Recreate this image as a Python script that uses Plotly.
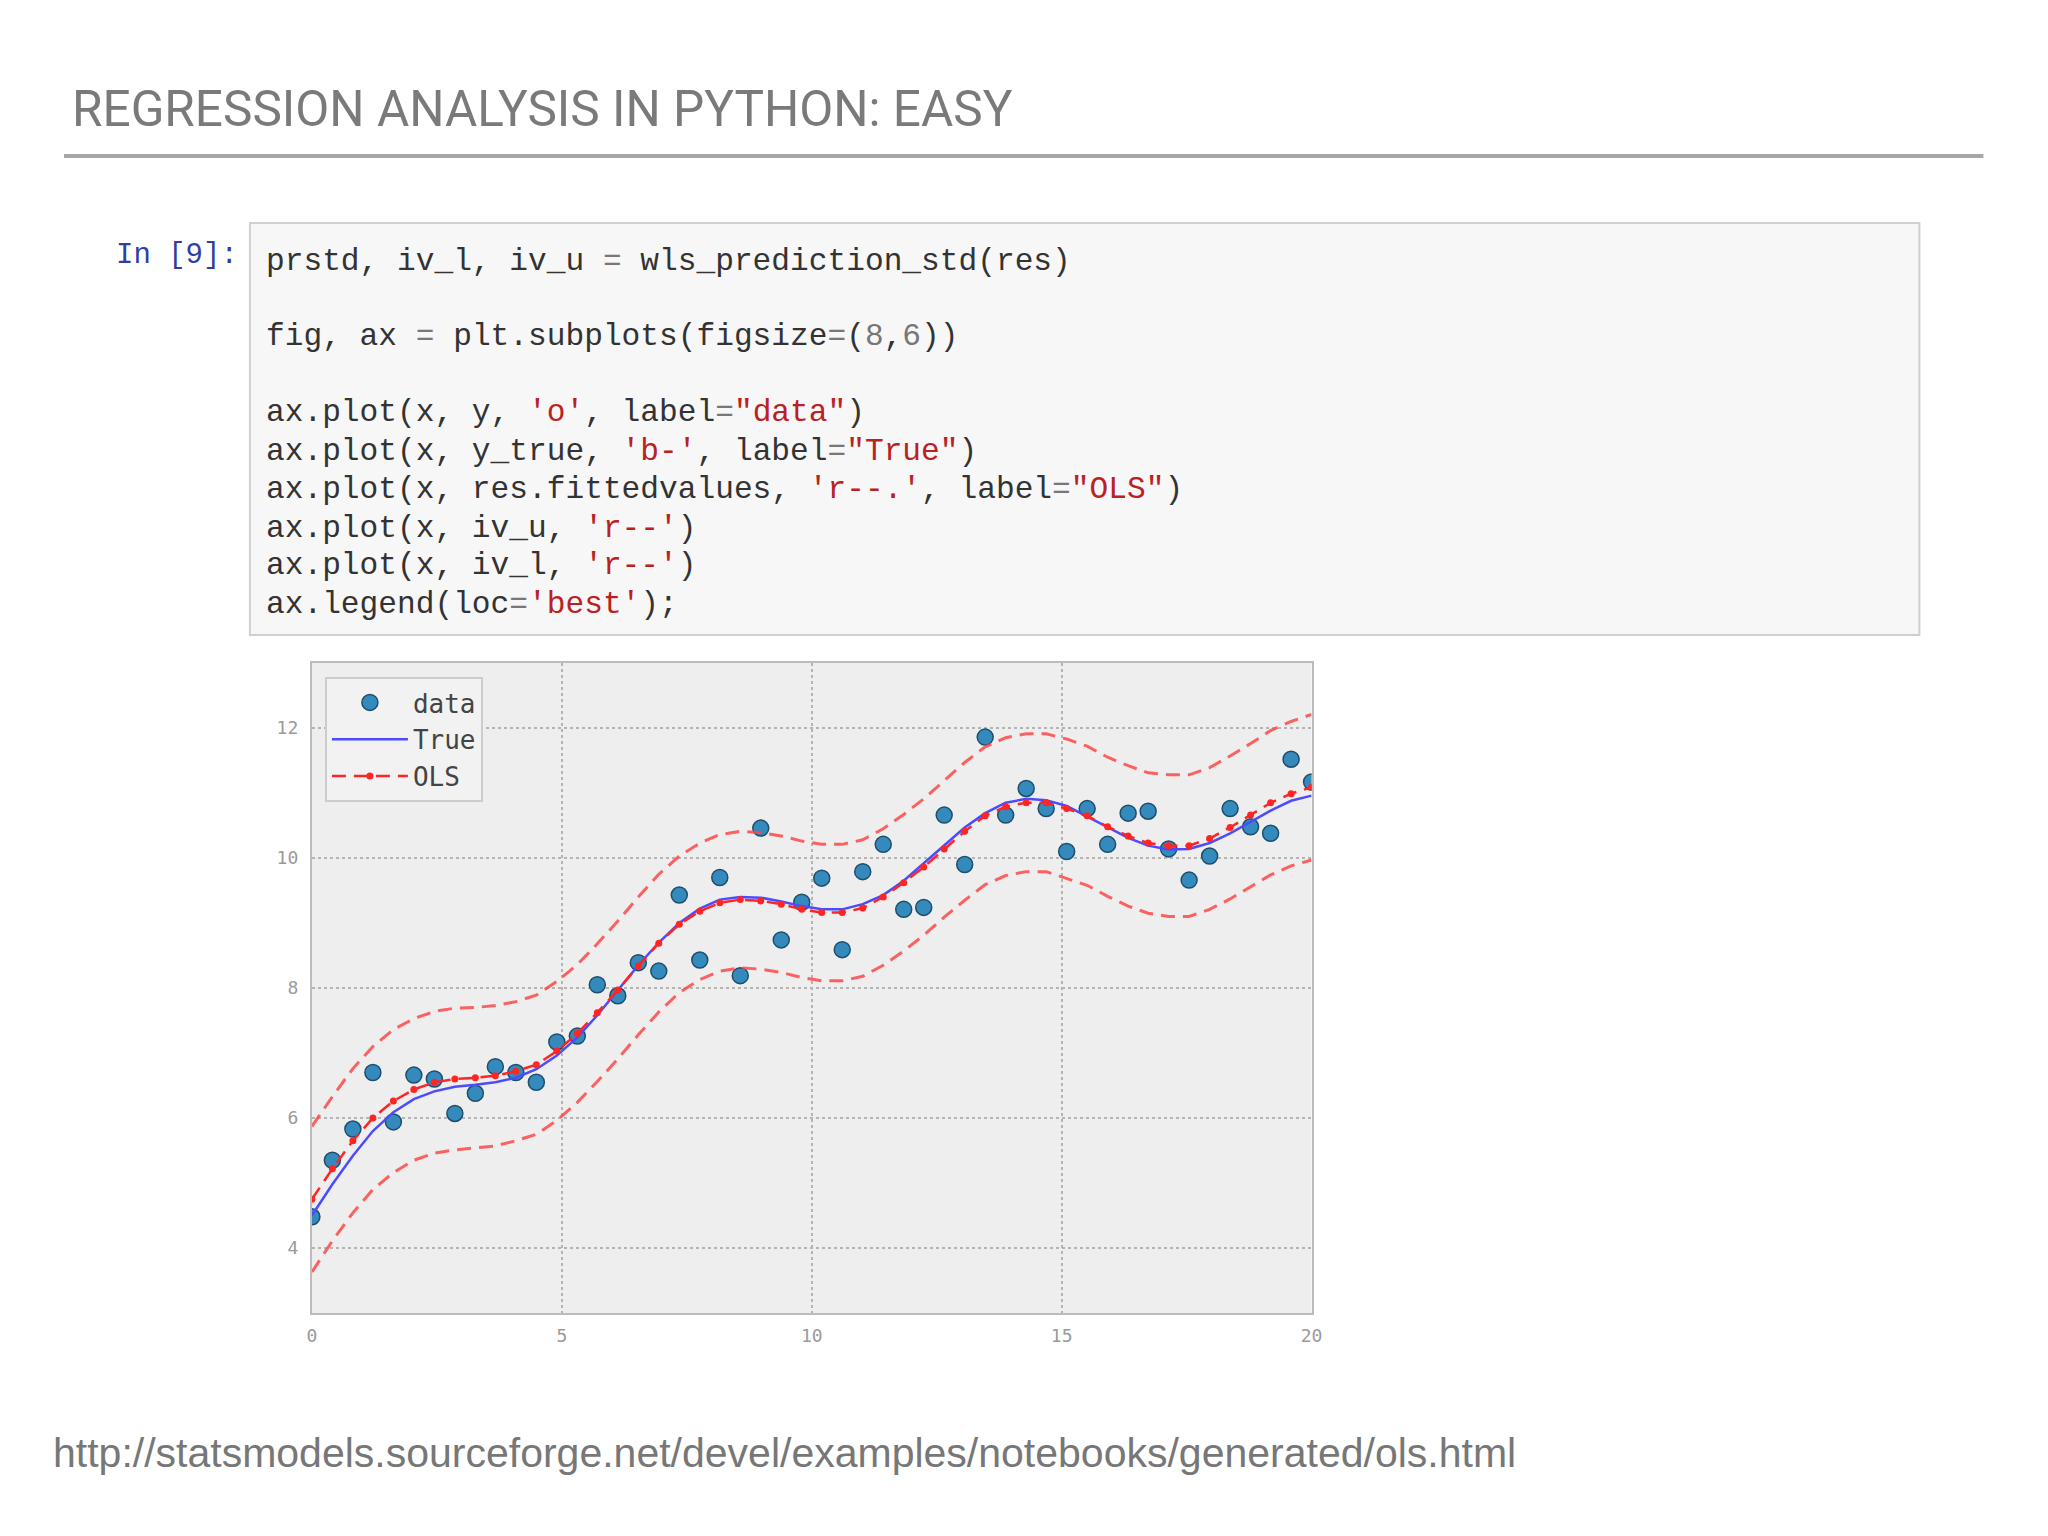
import plotly.graph_objects as go

W, H = 2048, 1536

# x positions of the 50 samples (0 .. 20)
x = [0.00, 0.41, 0.82, 1.22, 1.63, 2.04, 2.45, 2.86, 3.27, 3.67,
     4.08, 4.49, 4.90, 5.31, 5.71, 6.12, 6.53, 6.94, 7.35, 7.76,
     8.16, 8.57, 8.98, 9.39, 9.80, 10.20, 10.61, 11.02, 11.43, 11.84,
     12.24, 12.65, 13.06, 13.47, 13.88, 14.29, 14.69, 15.10, 15.51, 15.92,
     16.33, 16.73, 17.14, 17.55, 17.96, 18.37, 18.78, 19.18, 19.59, 20.00]

# observed points
y = [4.48, 5.35, 5.83, 6.70, 5.94, 6.66, 6.60, 6.07, 6.38, 6.79,
     6.70, 6.55, 7.17, 7.26, 8.05, 7.88, 8.39, 8.26, 9.43, 8.43,
     9.70, 8.19, 10.46, 8.74, 9.32, 9.69, 8.59, 9.79, 10.21, 9.21,
     9.24, 10.66, 9.90, 11.86, 10.66, 11.07, 10.76, 10.10, 10.76, 10.21,
     10.69, 10.72, 10.14, 9.66, 10.03, 10.76, 10.48, 10.38, 11.52, 11.17]

# true curve
y_true = [4.50, 4.98, 5.42, 5.80, 6.09, 6.29, 6.41, 6.48, 6.51, 6.55,
          6.62, 6.75, 6.96, 7.24, 7.58, 7.96, 8.35, 8.70, 9.00, 9.22,
          9.36, 9.40, 9.39, 9.33, 9.26, 9.21, 9.21, 9.29, 9.43, 9.65,
          9.92, 10.20, 10.47, 10.69, 10.85, 10.91, 10.89, 10.80, 10.64, 10.47,
          10.31, 10.19, 10.13, 10.14, 10.23, 10.38, 10.56, 10.73, 10.88, 10.96]

# OLS fitted values
ols = [4.75, 5.22, 5.65, 6.00, 6.26, 6.44, 6.55, 6.60, 6.62, 6.65,
       6.72, 6.82, 7.03, 7.30, 7.62, 7.97, 8.34, 8.69, 8.98, 9.18,
       9.31, 9.36, 9.34, 9.29, 9.21, 9.16, 9.16, 9.23, 9.40, 9.62,
       9.86, 10.14, 10.41, 10.65, 10.79, 10.85, 10.85, 10.76, 10.65, 10.48,
       10.34, 10.23, 10.19, 10.19, 10.30, 10.47, 10.66, 10.85, 10.99, 11.09]

# prediction interval
iv_u = [5.87, 6.33, 6.76, 7.10, 7.36, 7.53, 7.64, 7.69, 7.70, 7.73,
        7.79, 7.89, 8.10, 8.36, 8.68, 9.03, 9.40, 9.75, 10.03, 10.23,
        10.36, 10.41, 10.39, 10.34, 10.26, 10.21, 10.21, 10.28, 10.45, 10.67,
        10.91, 11.19, 11.47, 11.71, 11.85, 11.91, 11.91, 11.83, 11.72, 11.55,
        11.42, 11.31, 11.28, 11.28, 11.39, 11.57, 11.76, 11.96, 12.10, 12.21]
iv_l = [3.63, 4.11, 4.54, 4.90, 5.16, 5.35, 5.46, 5.51, 5.54, 5.57,
        5.65, 5.75, 5.96, 6.24, 6.56, 6.91, 7.28, 7.63, 7.93, 8.13,
        8.26, 8.31, 8.29, 8.24, 8.16, 8.11, 8.11, 8.18, 8.35, 8.57,
        8.81, 9.09, 9.35, 9.59, 9.73, 9.79, 9.79, 9.69, 9.58, 9.41,
        9.26, 9.15, 9.10, 9.10, 9.21, 9.37, 9.56, 9.74, 9.88, 9.97]

x_ticks = [0, 5, 10, 15, 20]
y_ticks = [4, 6, 8, 10, 12]

title_text = "REGRESSION ANALYSIS IN PYTHON: EASY"
prompt_text = "In [9]:"
source_text = "http://statsmodels.sourceforge.net/devel/examples/notebooks/generated/ols.html"

S = '<span style="color:#ba2121">'   # strings
N = '<span style="color:#777777">'   # numbers / operators
E = '</span>'
code_lines = [
    "prstd, iv_l, iv_u " + N + "=" + E + " wls_prediction_std(res)",
    "fig, ax " + N + "=" + E + " plt.subplots(figsize" + N + "=" + E + "(" + N + "8" + E + "," + N + "6" + E + "))",
    "ax.plot(x, y, " + S + "'o'" + E + ", label" + N + "=" + E + S + '"data"' + E + ")",
    "ax.plot(x, y_true, " + S + "'b-'" + E + ", label" + N + "=" + E + S + '"True"' + E + ")",
    "ax.plot(x, res.fittedvalues, " + S + "'r--.'" + E + ", label" + N + "=" + E + S + '"OLS"' + E + ")",
    "ax.plot(x, iv_u, " + S + "'r--'" + E + ")",
    "ax.plot(x, iv_l, " + S + "'r--'" + E + ")",
    "ax.legend(loc" + N + "=" + E + S + "'best'" + E + ");",
]
code_y = [261, 337, 413, 451, 489, 528, 566, 604]

# the captured page came out a little narrower than asked, so stretch x a bit
X_OFF, X_K = 5, 0.9925


# page pixel -> paper fraction
def px(v):
    return (v - X_OFF) / (X_K * W)


def py(v):
    return 1 - v / H


dash = "14px,8px"
fig = go.Figure()
fig.add_trace(go.Scatter(x=x, y=y, mode="markers", name="data",
                         marker=dict(size=16, color="#348abd",
                                     line=dict(width=1.5, color="#1f4e6b"))))
fig.add_trace(go.Scatter(x=x, y=y_true, mode="lines", name="True",
                         line=dict(color="#4b4bff", width=2.5)))
fig.add_trace(go.Scatter(x=x, y=ols, mode="lines+markers", name="OLS",
                         line=dict(color="#ff2525", width=2.5, dash=dash),
                         marker=dict(size=7, color="#ff2525")))
fig.add_trace(go.Scatter(x=x, y=iv_u, mode="lines", showlegend=False,
                         line=dict(color="rgba(255,70,70,0.85)", width=3, dash=dash)))
fig.add_trace(go.Scatter(x=x, y=iv_l, mode="lines", showlegend=False,
                         line=dict(color="rgba(255,70,70,0.85)", width=3, dash=dash)))

axis_style = dict(showline=True, mirror=True, linecolor="#bcbcbc", linewidth=2,
                  showgrid=True, gridcolor="#b4b4b4", gridwidth=1.5, griddash="dot",
                  zeroline=False, ticks="",
                  tickfont=dict(family="DejaVu Sans Mono", size=18, color="#9a9a9a"))

fig.update_layout(
    width=W, height=H,
    margin=dict(l=0, r=0, t=0, b=0),
    paper_bgcolor="white",
    plot_bgcolor="#eeeeee",
    xaxis=dict(domain=[px(312), px(1312)], range=[0, 20], tickvals=x_ticks,
               ticklabelstandoff=5, **axis_style),
    yaxis=dict(domain=[py(1313), py(663)], range=[3, 13], tickvals=y_ticks,
               ticklabelstandoff=8, **axis_style),
    legend=dict(x=px(325), y=py(677), xanchor="left", yanchor="top",
                bgcolor="#f2f2f2", bordercolor="#cccccc", borderwidth=2,
                font=dict(family="DejaVu Sans Mono", size=26, color="#444444"),
                tracegroupgap=0, itemwidth=76),
    showlegend=True,
)

shapes = [
    dict(type="line", xref="paper", yref="paper", x0=px(64), x1=px(1984),
         y0=py(156), y1=py(156), line=dict(color="#a6a6a6", width=4)),
    dict(type="rect", xref="paper", yref="paper", x0=px(250), x1=px(1920),
         y0=py(635), y1=py(223), fillcolor="#f7f7f7",
         line=dict(color="#d0d0d0", width=2), layer="below"),
]
fig.update_layout(shapes=shapes)

fig.add_annotation(text=title_text, xref="paper", yref="paper", x=px(70), y=py(109),
                   xanchor="left", yanchor="middle", showarrow=False,
                   font=dict(family="Roboto", size=49.5, color="#7a7a7a"))
fig.add_annotation(text=prompt_text, xref="paper", yref="paper", x=px(114), y=py(255),
                   xanchor="left", yanchor="middle", showarrow=False,
                   font=dict(family="Liberation Mono", size=29, color="#303f9f"))
for line, ly in zip(code_lines, code_y):
    fig.add_annotation(text=line, xref="paper", yref="paper", x=px(264), y=py(ly),
                       xanchor="left", yanchor="middle", showarrow=False,
                       font=dict(family="Liberation Mono", size=31.2, color="#333333"))
fig.add_annotation(text=source_text, xref="paper", yref="paper", x=px(51), y=py(1453),
                   xanchor="left", yanchor="middle", showarrow=False,
                   font=dict(family="Liberation Sans", size=41, color="#777777"))

# drop the default page margin so the figure sits at the window origin
fig.write_html("out.html", config={"displayModeBar": False},
               post_script="document.body.style.margin='0';document.body.style.overflow='hidden';")
